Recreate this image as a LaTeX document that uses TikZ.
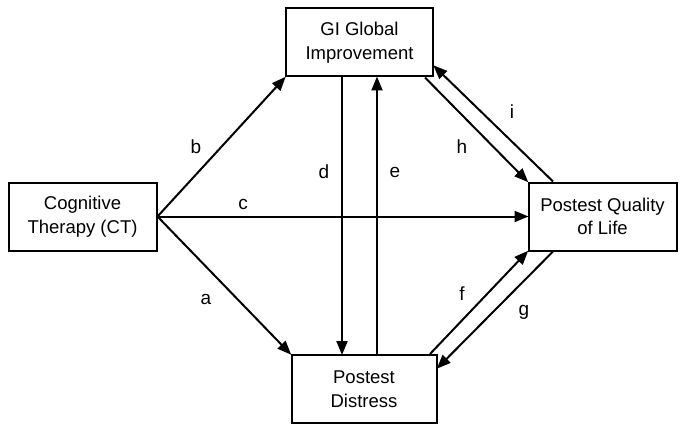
\documentclass[tikz,border=0pt]{standalone}
\usepackage{fontspec}
\setmainfont{Liberation Sans}
\usetikzlibrary{arrows.meta,calc}
\begin{document}
\begin{tikzpicture}[x=1pt,y=-1pt,
  box/.style={draw,line width=2pt,minimum width=#1,minimum height=68pt,align=center,inner sep=0pt,
     font=\fontsize{18.5}{23.5}\selectfont},
  box/.default=147pt,
  arr/.style={line width=2pt,-{Triangle[length=14pt,width=11pt]},shorten >=-1pt},
  lbl/.style={font=\fontsize{19}{21}\selectfont,inner sep=0pt}]
\useasboundingbox (0,0) rectangle (687,433);
\fill[white] (0,0) rectangle (687,433);
\node[box=147pt] (gi) at (359.5,42.5) {GI Global\\Improvement};
\node[box=148pt] (ct) at (82.5,216.5) {Cognitive\\Therapy (CT)};
\node[box=148pt] (qol) at (602.5,216.5) {Postest Quality\\of Life};
\node[box=145pt] (dis) at (364,389) {Postest\\Distress};
\coordinate (dx) at (342,0);
\coordinate (ex) at (377,0);
\coordinate (hs) at (425,0);
\coordinate (iy) at (0,66);
\coordinate (gx) at (0,368);
\coordinate (fx) at (430,0);
\coordinate (qx) at (553,0);
\draw[arr] (ct.east) -- (gi.south west);
\draw[arr] (ct.east) -- (dis.north west);
\draw[arr] (ct.east) -- (qol.west);
\draw[arr] (gi.south -| dx) -- (dis.north -| dx);
\draw[arr] (dis.north -| ex) -- (gi.south -| ex);
\draw[arr] (gi.south -| hs) -- (qol.north west);
\draw[arr] (qol.north -| qx) -- (gi.east |- iy);
\draw[arr] (dis.north -| fx) -- (qol.south west);
\draw[arr] (qol.south -| qx) -- (dis.east |- gx);
\node[lbl] (lb) at (196,147) {b};
\node[lbl] (lc) at (243,204) {c};
\node[lbl] (la) at (206,299) {a};
\node[lbl] (ld) at (324,172) {d};
\node[lbl] (le) at (395,172) {e};
\node[lbl] (lh) at (462,147) {h};
\node[lbl] (li) at (512,112) {i};
\node[lbl] (lf) at (462,294) {f};
\node[lbl] (lg) at (524,312) {g};
\end{tikzpicture}
\end{document}
